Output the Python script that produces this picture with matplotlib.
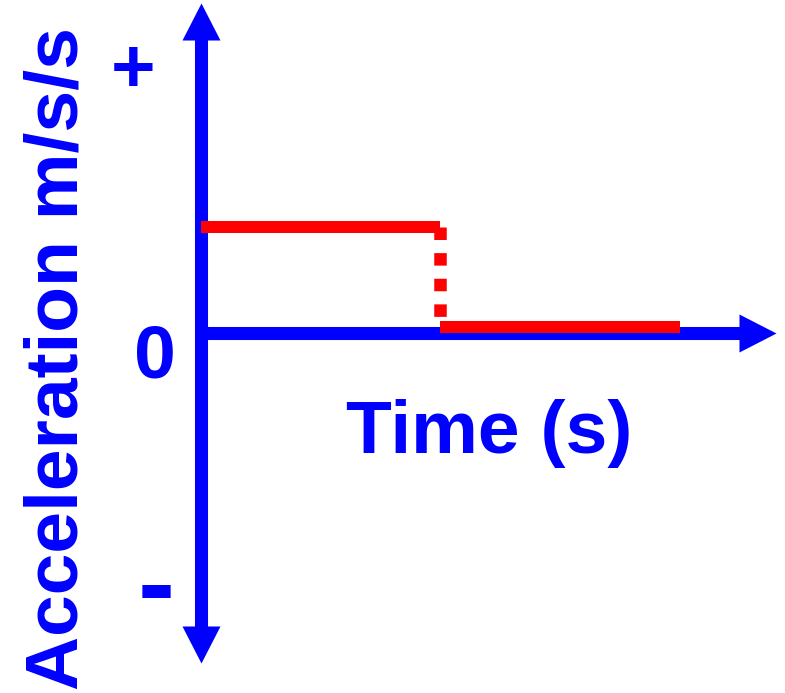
import numpy as np
import matplotlib.pyplot as plt
from matplotlib.path import Path

# data: acceleration before / after the change
time_before = [0, 5]
acc_before = [1.0, 1.0]
time_after = [5, 10]
acc_after = [0.06, 0.06]
step_time = [5, 5]
step_acc = [1.0, 0.06]

x_label = 'Time (s)'
y_label = 'Acceleration m/s/s'
y_marks = ['+', '0', '-']

X_TIP = 12.0
Y_TIP = 3.11
BLUE = '#0000ff'
RED = '#ff0000'


def head(direction):
    verts = np.array([(0, 0), (-19, -37), (19, -37), (0, 0)], dtype=float)
    rot = {'up': 0, 'right': -90, 'down': 180}[direction]
    a = np.deg2rad(rot)
    r = np.array([[np.cos(a), -np.sin(a)], [np.sin(a), np.cos(a)]])
    return Path(verts @ r.T, closed=True)


def main():
    plt.rcParams['font.family'] = ['Liberation Sans', 'DejaVu Sans']
    fig = plt.figure(figsize=(7.85, 6.93), dpi=100)
    ax = fig.add_axes([0, 0, 1, 1])
    ax.set_xlim(-4.196, 12.192)
    ax.set_ylim(-3.396, 3.1415)
    ax.axis('off')

    # axes with arrows
    ax.plot([0, 0], [-Y_TIP + 0.3, Y_TIP - 0.3], color=BLUE, lw=9.4,
            solid_capstyle='butt', zorder=2)
    ax.plot([0, X_TIP - 0.65], [0, 0], color=BLUE, lw=9.4,
            solid_capstyle='butt', zorder=2)
    for x, y, d in [(0, Y_TIP, 'up'), (0, -Y_TIP, 'down'), (X_TIP, 0, 'right')]:
        ax.plot([x], [y], marker=head(d), markersize=53.3, color=BLUE,
                markeredgewidth=0, zorder=2)

    # acceleration
    ax.plot(time_before, acc_before, color=RED, lw=8.64,
            solid_capstyle='butt', zorder=3)
    ax.plot(step_time, step_acc, color=RED, lw=9.0, dashes=(1.0, 1.05),
            dash_capstyle='butt', zorder=3)
    ax.plot(time_after, acc_after, color=RED, lw=8.64,
            solid_capstyle='butt', zorder=3)

    kw = dict(color=BLUE, fontweight='bold', transform=fig.transFigure)
    fig.text(489.5 / 785, 1 - 453 / 693, x_label, fontsize=54,
             ha='center', va='baseline', **kw)
    fig.text(78 / 785, 1 - 358 / 693, y_label, fontsize=54, rotation=90,
             rotation_mode='anchor', ha='center', va='baseline', **kw)
    fig.text(133 / 785, 1 - 92 / 693, y_marks[0], fontsize=55,
             ha='center', va='baseline', **kw)
    fig.text(155 / 785, 1 - 377 / 693, y_marks[1], fontsize=54,
             ha='center', va='baseline', **kw)
    fig.text(156 / 785, 1 - 620 / 693, y_marks[2], fontsize=80,
             ha='center', va='baseline', **kw)

    fig.savefig('out.png', dpi=100)


if __name__ == "__main__":
    main()
